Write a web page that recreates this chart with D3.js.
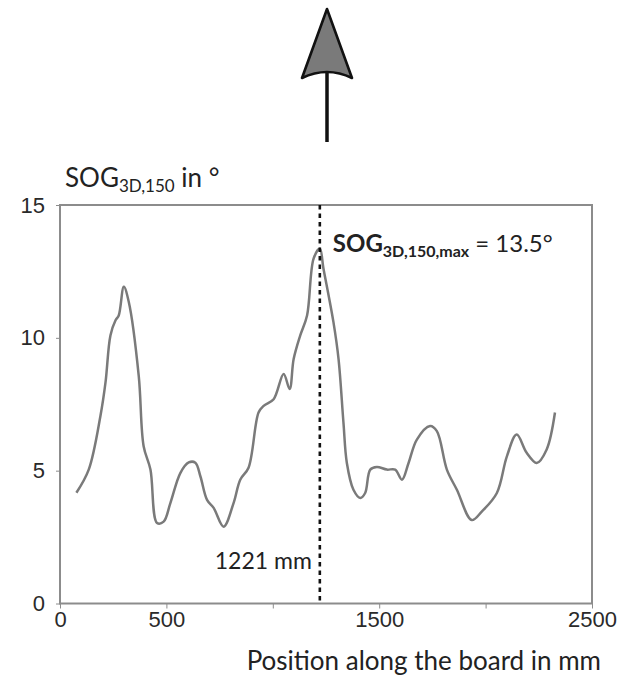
<!DOCTYPE html>
<meta charset="utf-8">
<style>

  body {
    margin: 0;
    background: #fff;
  }

  .frame {
    fill: none;
    stroke: #8c8c8c;
    stroke-width: 2px;
  }

  .tick line {
    stroke: #8c8c8c;
  }

  .tick text {
    font: 22px "Liberation Sans", Arial, sans-serif;
    fill: #2a2a2a;
  }

  .curve {
    fill: none;
    stroke: #7a7a7a;
    stroke-width: 2.5px;
  }

  .marker {
    stroke: #111;
    stroke-width: 2.6px;
    stroke-dasharray: 4.5 4;
  }

  .label {
    font-family: Lato, "Open Sans", sans-serif;
    fill: #222;
  }

</style>
<svg width="630" height="685"></svg>
<script src="https://d3js.org/d3.v7.min.js"></script>
<script>

    // position along the board (mm) and SOG (deg)
    var positionMm = [77, 135, 190, 214, 237, 261, 276, 300, 323, 370, 393, 425, 456, 487, 519, 566,
                      605, 636, 660, 691, 722, 769, 816, 847, 886, 933, 957, 1004, 1051, 1079, 1098,
                      1129, 1161, 1192, 1221, 1238, 1285, 1309, 1332, 1348, 1379, 1411, 1434, 1458,
                      1489, 1536, 1575, 1607, 1638, 1677, 1739, 1771, 1818, 1865, 1935, 1982, 2053,
                      2100, 2146, 2193, 2240, 2287, 2326];
    var sogDeg = [4.17, 5.04, 7.06, 8.33, 10.09, 10.66, 10.84, 11.92, 11.36, 8.57, 5.92, 5.04, 3.03,
                  3.08, 3.79, 4.92, 5.31, 5.30, 4.78, 3.90, 3.60, 2.89, 3.79, 4.66, 5.11, 7.19, 7.44,
                  7.69, 8.64, 8.07, 9.20, 10.09, 10.84, 12.99, 13.35, 12.61, 10.59, 9.20, 6.81, 5.29,
                  4.28, 3.97, 4.16, 5.04, 5.14, 5.04, 5.04, 4.66, 5.29, 6.17, 6.68, 6.49, 5.04, 4.28,
                  3.14, 3.46, 4.16, 5.54, 6.36, 5.67, 5.29, 5.80, 7.19];

    var xTicks = [0, 500, 1000, 1500, 2000, 2500];
    var xTickLabels = ["0", "500", "", "1500", "", "2500"];
    var yTicks = [0, 5, 10, 15];

    var maxPos = 1221, maxValue = 13.5;

    var svg = d3.select("svg"),
        plotLeft = 60, plotRight = 592, plotTop = 205, plotBottom = 603.5;

    var x = d3.scaleLinear().domain([0, 2500]).range([plotLeft, plotRight]);
    var y = d3.scaleLinear().domain([0, 15]).range([plotBottom, plotTop]);

    // arrow on top
    var arrow = svg.append("g");
    arrow.append("line")
        .attr("x1", 327).attr("x2", 327)
        .attr("y1", 66).attr("y2", 142)
        .style("stroke", "#111").style("stroke-width", 3.5);
    arrow.append("path")
        .attr("d", "M327,9 L352,78 Q327,66 302,78 Z")
        .style("fill", "#7a7a7a")
        .style("stroke", "#111")
        .style("stroke-width", 2.6)
        .style("stroke-linejoin", "round");

    // axes
    svg.append("g")
        .attr("transform", "translate(0," + plotBottom + ")")
        .call(d3.axisBottom(x).tickValues(xTicks).tickSize(5).tickPadding(3)
              .tickFormat(function(d, i) { return xTickLabels[i]; }))
        .call(function(g) { g.select(".domain").remove(); });

    svg.append("g")
        .attr("transform", "translate(" + plotLeft + ",0)")
        .call(d3.axisLeft(y).tickValues(yTicks).tickSize(4).tickPadding(11))
        .call(function(g) { g.select(".domain").remove(); });

    svg.append("rect")
        .attr("class", "frame")
        .attr("x", plotLeft).attr("y", plotTop)
        .attr("width", plotRight - plotLeft).attr("height", plotBottom - plotTop);

    // curve
    var line = d3.line()
        .x(function(d, i) { return x(positionMm[i]); })
        .y(function(d) { return y(d); })
        .curve(d3.curveCatmullRom.alpha(0.5));

    svg.append("path")
        .attr("class", "curve")
        .attr("d", line(sogDeg));

    // marker at the maximum
    svg.append("line")
        .attr("class", "marker")
        .attr("x1", x(maxPos)).attr("x2", x(maxPos))
        .attr("y1", y(15)).attr("y2", y(0));

    var ann = svg.append("text")
        .attr("class", "label")
        .attr("x", x(maxPos) + 13)
        .attr("y", 252)
        .style("font-size", "24px");
    ann.append("tspan").style("font-weight", "bold").text("SOG");
    ann.append("tspan").style("font-weight", "bold").style("font-size", "16px")
        .attr("dy", 5).text("3D,150,max");
    ann.append("tspan").attr("dy", -5).text(" = " + maxValue + "°");

    svg.append("text")
        .attr("class", "label")
        .attr("x", x(maxPos) - 8)
        .attr("y", 569)
        .attr("text-anchor", "end")
        .style("font-size", "23px")
        .text(maxPos + " mm");

    // axis titles
    var yTitle = svg.append("text")
        .attr("class", "label")
        .attr("x", 65)
        .attr("y", 187)
        .style("font-size", "26px");
    yTitle.append("tspan").text("SOG");
    yTitle.append("tspan").style("font-size", "17px").attr("dy", 5).text("3D,150");
    yTitle.append("tspan").attr("dy", -5).text(" in °");

    svg.append("text")
        .attr("class", "label")
        .attr("x", 601)
        .attr("y", 670)
        .attr("text-anchor", "end")
        .style("font-size", "26px")
        .text("Position along the board in mm");

</script>
